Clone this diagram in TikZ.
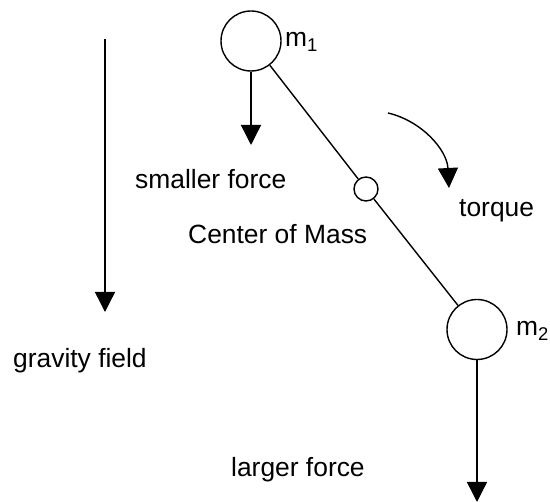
\documentclass[tikz,border=0pt]{standalone}
\usepackage{fontspec}
\setmainfont{Liberation Sans}
\usetikzlibrary{arrows.meta}
\begin{document}
\begin{tikzpicture}[x=1pt,y=-1pt,
  mass/.style={circle,draw,line width=1.4pt,minimum size=60pt,inner sep=0pt},
  comdot/.style={circle,draw,line width=1.4pt,minimum size=24pt,inner sep=0pt},
  lbl/.style={anchor=base west,inner sep=0pt,font=\fontsize{26.4}{32}\selectfont},
  force/.style={line width=1.4pt,-{Triangle[length=20pt,width=20pt]}},
  rod/.style={line width=1.4pt}]
\useasboundingbox (0,0) rectangle (550,502);
% masses
\node[mass] (m1) at (251,41) {};
\node[mass] (m2) at (477,329.5) {};
\node[comdot] (com) at (366,189) {};
\draw[rod] (m1) -- (com);
\draw[rod] (com) -- (m2);
% force arrows
\coordinate (f1) at (251,145);
\coordinate (f2) at (477,502);
\draw[force] (m1.south) -- (f1);
\draw[force] (m2.south) -- (f2);
% gravity
\coordinate (gtop) at (105,39);
\coordinate (gbot) at (105,312);
\draw[force] (gtop) -- (gbot);
% torque
\coordinate (ts) at (388,113);
\coordinate (te) at (449,188);
\draw[force] (ts) .. controls (422,121) and (447,150) .. (te);
% labels
\node[lbl] (lm1) at (285,47) {m\textsubscript{1}};
\node[lbl] (lm2) at (516,336) {m\textsubscript{2}};
\node[lbl] (lsm) at (135,189) {smaller force};
\node[lbl] (lcm) at (188,244) {Center of Mass};
\node[lbl] (ltq) at (459,217) {torque};
\node[lbl] (lgf) at (13,368) {gravity field};
\node[lbl] (llf) at (231,477) {larger force};
\end{tikzpicture}
\end{document}
